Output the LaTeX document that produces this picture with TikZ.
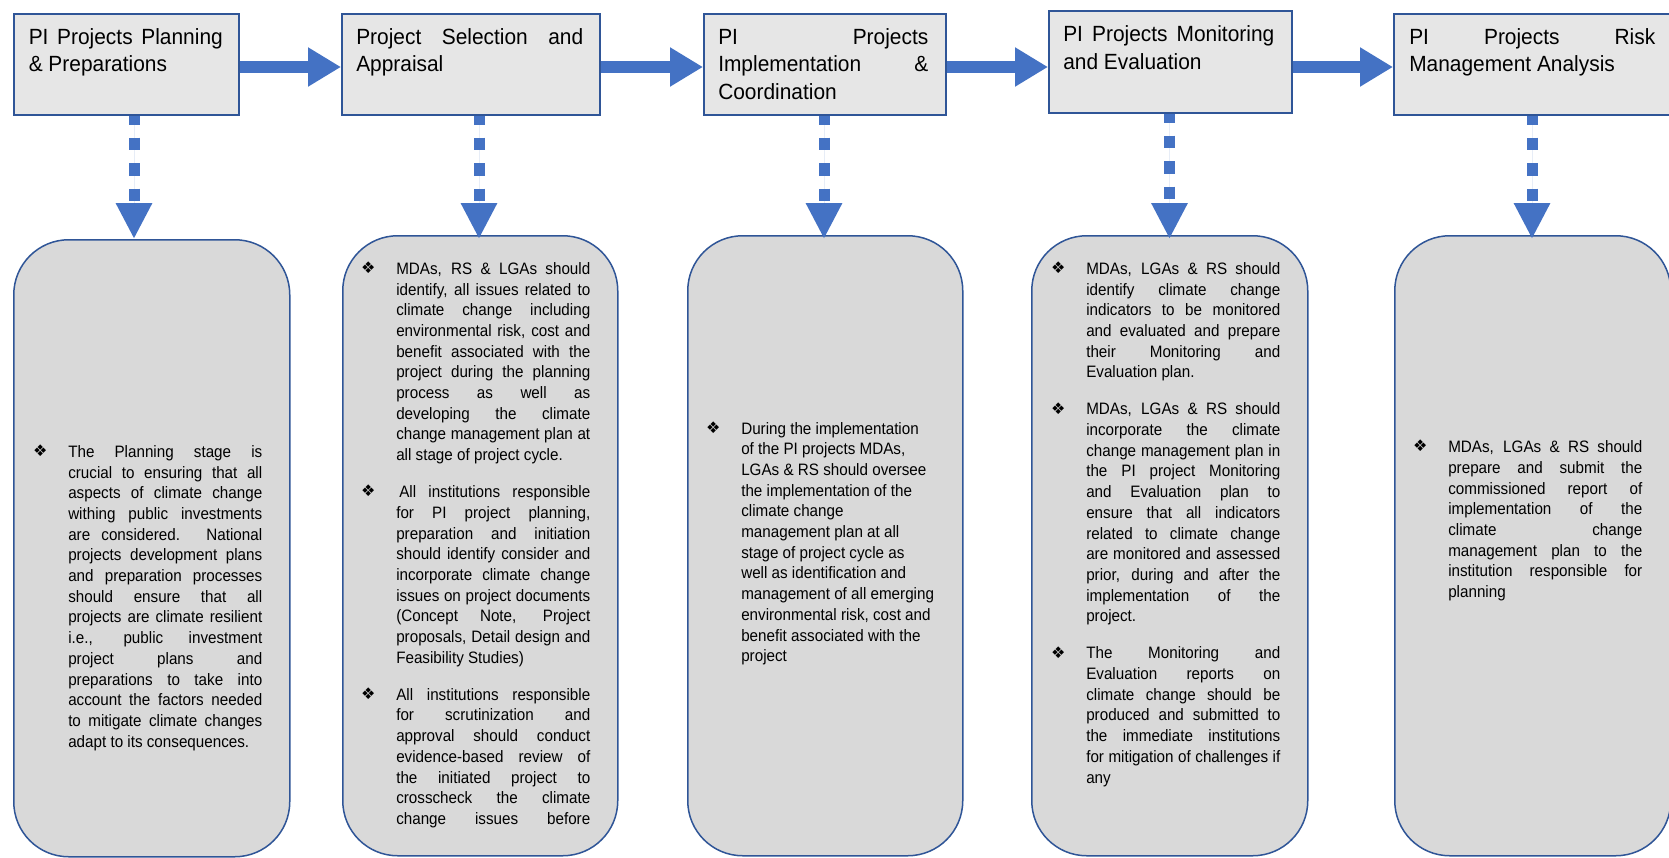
\documentclass[tikz,border=0pt]{standalone}
\usepackage{fontspec}
\setmainfont{Liberation Sans}[FakeStretch=0.95]
\newfontfamily\panelfont{Liberation Sans}[FakeStretch=0.92]
\newfontfamily\bulletfont{DejaVu Sans}
\usetikzlibrary{arrows.meta}

% one pixel of the canvas
\newlength\px
\setlength\px{0.75pt}

\definecolor{boxblue}{HTML}{2F5597}
\definecolor{flowblue}{HTML}{4472C4}
\definecolor{headfill}{HTML}{E6E6E6}
\definecolor{bodyfill}{HTML}{D9D9D9}

% bullet hanging in the left margin of a paragraph
\newcommand\itemmark{\leavevmode\llap{\makebox[0pt]{\raisebox{0.6pt}{\fontsize{12}{12}\bulletfont ❖}}\hspace{28\px}}}
\newcommand\nextpar{\par\vspace{16.3\px}}

% body text of a detail panel
\newcommand\bodyblock[1]{\parbox[t]{194\px}{\fontsize{12.4}{15.525}\panelfont
  \parindent=0pt\parskip=0pt\tolerance=10000\hbadness=10000
  \hyphenpenalty=10000\exhyphenpenalty=10000 #1}}
% title text of a stage box
\newcommand\headblock[2]{\parbox[t]{#1}{\fontsize{16.5}{20.7}\selectfont
  \parindent=0pt\parskip=0pt\tolerance=10000\hbadness=10000
  \hyphenpenalty=10000\exhyphenpenalty=10000 #2}}

% sizes below are in pt (1px = 0.75pt)
\tikzset{
  headbox/.style={draw=boxblue, fill=headfill, line width=1.125pt, inner sep=0pt, anchor=north west},
  bodybox/.style={draw=boxblue, fill=bodyfill, line width=1.125pt, rounded corners=41.25pt, inner sep=0pt, anchor=north west},
  textblock/.style={anchor=base west, inner sep=0pt, text=black},
  flow/.style={draw=flowblue, fill=flowblue, line width=9pt, -{Triangle[length=24.75pt, width=27.75pt]}},
  drop/.style={draw=flowblue, fill=flowblue, line width=8.25pt, dash pattern=on 9.375pt off 9.75pt, dash phase=2.625pt,
    -{Triangle[length=27pt, width=25.5pt]}, shorten >=-3pt}
}

\begin{document}
\begin{tikzpicture}[x=0.75pt, y=-0.75pt]
\useasboundingbox (0,0) rectangle (1669,857);
\fill[white] (0,0) rectangle (1669,857);

% stage boxes
\node[headbox, minimum width=168.75pt, minimum height=75.75pt] (b1) at (13,13) {};
\node[headbox, minimum width=193.5pt, minimum height=75.75pt] (b2) at (341,13) {};
\node[headbox, minimum width=181.5pt, minimum height=75.75pt] (b3) at (703,13) {};
\node[headbox, minimum width=182.25pt, minimum height=76.5pt] (b4) at (1048,10) {};
\node[headbox, minimum width=207.75pt, minimum height=75.75pt] (b5) at (1393,13) {};

% detail panels
\node[bodybox, minimum width=207pt, minimum height=462.75pt] (r1) at (13,239) {};
\node[bodybox, minimum width=206.25pt, minimum height=465pt] (r2) at (342,235) {};
\node[bodybox, minimum width=206.25pt, minimum height=465pt] (r3) at (687,235) {};
\node[bodybox, minimum width=207pt, minimum height=465pt] (r4) at (1031,235) {};
\node[bodybox, minimum width=207pt, minimum height=465pt] (r5) at (1394,235) {};

% stage titles
\node[textblock] (h1) at (28.5,44.3) {\headblock{194\px}{PI Projects Planning\linebreak \& Preparations}};
\node[textblock] (h2) at (356,44.3) {\headblock{227\px}{Project Selection and\linebreak Appraisal}};
\node[textblock] (h3) at (718,44.3) {\headblock{210\px}{PI Projects\linebreak Implementation \&\linebreak Coordination}};
\node[textblock] (h4) at (1063,41.7) {\headblock{211\px}{PI Projects Monitoring\linebreak and Evaluation}};
\node[textblock] (h5) at (1409,44.3) {\headblock{246\px}{PI Projects Risk\linebreak Management Analysis}};

% panel texts
\node[textblock] (p1) at (68,457.3) {\bodyblock{\itemmark The Planning stage is\linebreak
crucial to ensuring that all\linebreak
aspects of climate change\linebreak
withing public investments\linebreak
are considered. National\linebreak
projects development plans\linebreak
and preparation processes\linebreak
should ensure that all\linebreak
projects are climate resilient\linebreak
i.e., public investment\linebreak
project plans and\linebreak
preparations to take into\linebreak
account the factors needed\linebreak
to mitigate climate changes\linebreak
adapt to its consequences.}};

\node[textblock] (p2) at (396,274.3) {\bodyblock{\itemmark MDAs, RS \& LGAs should\linebreak
identify, all issues related to\linebreak
climate change including\linebreak
environmental risk, cost and\linebreak
benefit associated with the\linebreak
project during the planning\linebreak
process as well as\linebreak
developing the climate\linebreak
change management plan at\linebreak
all stage of project cycle.\nextpar
\itemmark\hspace{3\px}All institutions responsible\linebreak
for PI project planning,\linebreak
preparation and initiation\linebreak
should identify consider and\linebreak
incorporate climate change\linebreak
issues on project documents\linebreak
(Concept Note, Project\linebreak
proposals, Detail design and\linebreak
Feasibility Studies)\nextpar
\itemmark All institutions responsible\linebreak
for scrutinization and\linebreak
approval should conduct\linebreak
evidence-based review of\linebreak
the initiated project to\linebreak
crosscheck the climate\linebreak
change issues before\parfillskip=0pt\par}};

\node[textblock] (p3) at (741,434) {\bodyblock{\raggedright\itemmark During the implementation\newline
of the PI projects MDAs,\newline
LGAs \& RS should oversee\newline
the implementation of the\newline
climate change\newline
management plan at all\newline
stage of project cycle as\newline
well as identification and\newline
management of all emerging\newline
environmental risk, cost and\newline
benefit associated with the\newline
project}};

\node[textblock] (p4) at (1086,274.3) {\bodyblock{\itemmark MDAs, LGAs \& RS should\linebreak
identify climate change\linebreak
indicators to be monitored\linebreak
and evaluated and prepare\linebreak
their Monitoring and\linebreak
Evaluation plan.\nextpar
\itemmark MDAs, LGAs \& RS should\linebreak
incorporate the climate\linebreak
change management plan in\linebreak
the PI project Monitoring\linebreak
and Evaluation plan to\linebreak
ensure that all indicators\linebreak
related to climate change\linebreak
are monitored and assessed\linebreak
prior, during and after the\linebreak
implementation of the\linebreak
project.\nextpar
\itemmark The Monitoring and\linebreak
Evaluation reports on\linebreak
climate change should be\linebreak
produced and submitted to\linebreak
the immediate institutions\linebreak
for mitigation of challenges if\linebreak
any}};

\node[textblock] (p5) at (1448,452.7) {\bodyblock{\itemmark MDAs, LGAs \& RS should\linebreak
prepare and submit the\linebreak
commissioned report of\linebreak
implementation of the\linebreak
climate change\linebreak
management plan to the\linebreak
institution responsible for\linebreak
planning}};

% flow between stages
\coordinate (row) at (0,67);
\draw[flow] (b1.east |- row) -- (b2.west |- row);
\draw[flow] (b2.east |- row) -- (b3.west |- row);
\draw[flow] (b3.east |- row) -- (b4.west |- row);
\draw[flow] (b4.east |- row) -- (b5.west |- row);

% each stage down to its panel
\coordinate (d1) at (134,0);
\coordinate (d2) at (479,0);
\coordinate (d3) at (824,0);
\coordinate (d4) at (1169.5,0);
\coordinate (d5) at (1532,0);
\draw[drop, shorten >=0pt] (b1.south -| d1) -- (r1.north -| d1);
\draw[drop] (b2.south -| d2) -- (r2.north -| d2);
\draw[drop] (b3.south -| d3) -- (r3.north -| d3);
\draw[drop] (b4.south -| d4) -- (r4.north -| d4);
\draw[drop] (b5.south -| d5) -- (r5.north -| d5);
\end{tikzpicture}
\end{document}
